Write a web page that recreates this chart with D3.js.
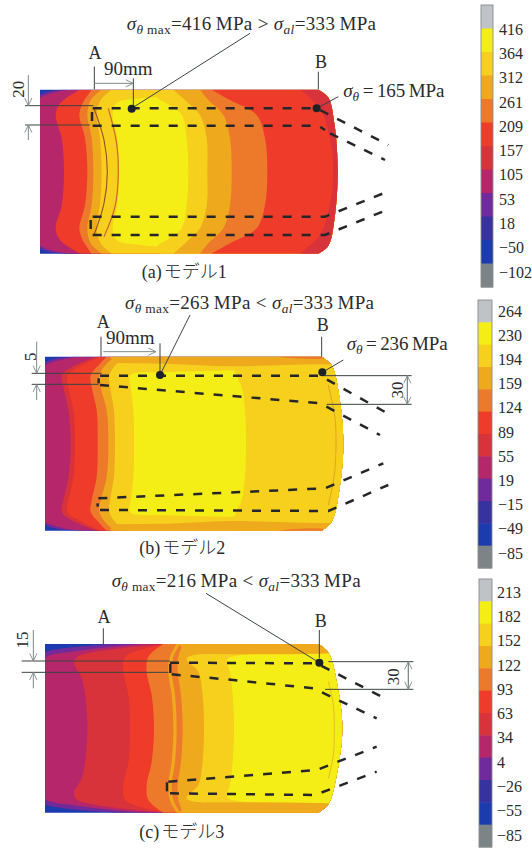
<!DOCTYPE html>
<html><head><meta charset="utf-8">
<script src="https://cdnjs.cloudflare.com/ajax/libs/d3/7.8.5/d3.min.js"></script>
<style>html,body{margin:0;padding:0;background:#fff}svg{display:block}
text{font-family:"Liberation Serif",serif;fill:#2b2b2b}
.jp{font-family:"Noto Sans CJK JP",sans-serif;font-weight:300}</style></head>
<body><div id="c"></div>
<script>
// ---- colour scale steps (top to bottom of each legend) ----
const legendSteps = ["#bfc3c8","#f4ee12","#f6d01a","#eeaa1e","#ec7a2a","#ee3a2a","#d8303a","#b5286a","#6f2a9c","#38309e","#1a3aae","#7d8488"];
const [GY,Y,G,A,O,R,C,M,P,I,B] = legendSteps;
const legendA = ["416","364","312","261","209","157","105","53","18","−50","−102"];
const legendB = ["264","230","194","159","124","89","55","19","−15","−49","−85"];
const legendC = ["213","182","152","122","93","63","34","4","−26","−55","−85"];

// ---- contour bands: [radial offset from axis, axial position] (3x units) ----
const bandsA = [
 [P,[[0,110],[222,110],[246,190]]],
 [M,[[0,110],[212,110],[246,215]]],
 [R,[[0,192],[100,185],[170,167],[205,180],[246,240]]],
 [O,[[0,262],[100,255],[170,238],[205,248],[246,275]]],
 [A,[[0,280],[100,275],[170,262],[215,272],[246,305]]],
 [G,[[0,305],[100,300],[170,290],[215,302],[246,335]]],
 [Y,[[0,357],[100,352],[170,338],[205,350],[220,420],[235,800]]],
 [G,[[0,565],[100,560],[170,545],[205,500],[225,470],[246,480]]],
 [A,[[0,622],[100,620],[170,600],[210,560],[246,520]]],
 [O,[[0,695],[100,690],[170,670],[215,625],[246,600]]],
 [R,[[0,802],[100,795],[170,770],[215,690],[246,635]]],
 [C,[[0,1000],[100,990],[190,960],[246,900]]]
];
const stripsA = [];
const bandsB = [
 [P,[[0,125],[236,125],[261,235]]],
 [M,[[0,125],[225,125],[261,255]]],
 [C,[[0,212],[100,205],[170,190],[205,185],[230,215],[261,290]]],
 [R,[[0,225],[100,220],[170,205],[205,202],[261,300]]],
 [O,[[0,293],[100,290],[170,275],[205,272],[240,300],[261,320]]],
 [A,[[0,325],[100,320],[170,302],[205,298],[240,320],[261,345]]],
 [G,[[0,345],[100,342],[170,330],[205,328],[240,350],[261,380]]],
 [Y,[[0,402],[100,400],[170,392],[205,390],[215,500],[225,1200]]],
 [G,[[0,738],[100,735],[170,725],[215,705],[261,700]]]
];
const stripsB = [
 [A,[[330,261],[345,242],[500,240],[700,232],[960,238],[1035,235]]],
 [O,[[835,261],[880,256],[950,254],[990,261]]]
];
const bandsC = [
 [P,[[0,125],[200,125],[225,130],[240,190],[253,340]]],
 [M,[[0,125],[195,125],[215,140],[232,230],[253,420]]],
 [C,[[0,262],[100,255],[150,245],[195,222],[215,232],[253,490]]],
 [R,[[0,390],[100,385],[170,370],[215,375],[253,495]]],
 [O,[[0,462],[100,455],[170,440],[215,445],[253,490]]],
 [A,[[0,520],[100,515],[170,505],[215,510],[253,530]]],
 [O,[[0,530],[100,525],[170,515],[215,520],[253,540]]],
 [A,[[0,548],[100,543],[170,533],[215,535],[253,550]]],
 [G,[[0,612],[100,608],[170,595],[210,560],[225,800],[240,2000]]],
 [Y,[[0,702],[100,698],[170,690],[200,680],[213,690],[222,2000]]]
];
const stripsC = [
 [A,[[535,253],[580,226],[700,222],[960,224],[1035,228]]]
];

// ---- vessel outlines: right end cap as [axial, radial] ----
const capA = [[955,246],[985,222],[1003,145],[1013,0]];
const capB = [[965,261],[995,235],[1018,140],[1030,0]];
const capC = [[955,253],[985,228],[1012,130],[1027,0]];

// ---- weld seam dashed lines (3x picture units) ----
const seamsA = [
 [[278,325],[950,325],[1165,435]],[[278,377],[955,377],[975,390]],[[990,400],[1155,480]],
 [[278,650],[975,650],[1150,580]],[[278,705],[975,705],[1160,630]],
 [[276,336],[276,364]],[[272,660],[272,690]]
];
const seamsB = [
 [[300,272],[960,272],[1180,395]],[[300,300],[960,355],[1140,450]],
 [[295,640],[975,610],[1150,535]],[[300,675],[985,678],[1165,600]],
 [[296,280],[296,295]],[[293,655],[293,665]]
];
const seamsC = [
 [[510,293],[950,295],[1145,395]],[[515,328],[700,345],[940,370],[1130,460]],
 [[505,650],[760,630],[950,615],[1130,545]],[[510,685],[945,690],[1130,620]],
 [[511,297],[511,325]],[[501,652],[501,680]]
];

// ---- thin lines, arrows, dots, labels ----
const leadersA = [[[750,100],[395,325]],[[1015,290],[950,325]],[[400,235],[400,325]],[[283,200],[283,268]],[[955,215],[955,268]],[[75,317],[280,317]],[[75,375],[270,375]]];
const leadersB = [[[570,90],[480,270]],[[1030,225],[967,262]],[[480,175],[480,270]],[[303,155],[303,215]],[[965,155],[965,215]],[[95,265],[305,265]],[[95,298],[295,298]],[[970,272],[1235,272]],[[980,358],[1235,358]]];
const leadersC = [[[618,85],[958,293]],[[310,190],[310,237]],[[958,195],[958,280]],[[65,288],[510,288]],[[65,322],[505,322]],[[985,290],[1240,290]],[[975,373],[1240,373]]];
const arrowsA = [[[283,250],[400,250]],[[85,225],[85,317]],[[85,420],[85,375]]];
const arrowsB = [[[310,200],[468,200]],[[110,170],[110,265]],[[110,345],[110,298]],[[1222,358],[1222,272]],[[1222,272],[1222,358]]];
const arrowsC = [[[100,195],[100,288]],[[100,370],[100,322]],[[1225,373],[1225,290]],[[1225,290],[1225,373]]];
const dotsA = [[395,326],[950,325]];
const dotsB = [[480,270],[967,262]];
const dotsC = [[958,293]];
const arcsA = [["#9a4a2c",[[282,325],[312,420],[322,515],[312,610],[282,705]]],["#c8602a",[[325,325],[350,430],[355,515],[345,620],[312,710]]]];
const arcsB = [["#e6a81e",[[985,300],[1005,400],[1008,480],[1003,570],[985,660]]]];
const arcsC = [["#e8c020",[[985,350],[1000,420],[1003,490],[1000,570],[985,640]]]];

const formulaA = {max:"416",rel:">",x:[380,1128],y:90};
const formulaB = {max:"263",rel:"<",x:[375,1122],y:72};
const formulaC = {max:"216",rel:"<",x:[335,1082],y:66};
const captionA = ["(a)","モデル","1"];
const captionB = ["(b)","モデル","2"];
const captionC = ["(c)","モデル","3"];

// ---- panel frames ----
const panels = [
 {yo:0,  cy:515,half:246,left:120,bands:bandsA,strips:stripsA,cap:capA,seams:seamsA,lead:leadersA,arrows:arrowsA,dots:dotsA,arcs:arcsA,f:formulaA,
  local:{val:"165",x:1030,y:292},A:[285,176],B:[963,204],span:{t:"90mm",x:312,y:225},dims:[["20",55,268],null],cap2:captionA,capPos:[425,835],
  lg:{labels:legendA,x:[481,493],y:[5,287],lab:[29,272],tx:499}},
 {yo:285,cy:476,half:261,left:135,bands:bandsB,strips:stripsB,cap:capB,seams:seamsB,lead:leadersB,arrows:arrowsB,dots:dotsB,arcs:arcsB,f:formulaB,
  local:{val:"236",x:1040,y:195},A:[310,128],B:[968,138],span:{t:"90mm",x:318,y:178},dims:[["5",90,215],["30",1190,315]],cap2:captionB,capPos:[418,808],
  lg:{labels:legendB,x:[478,492],y:[300,568],lab:[311,553],tx:498}},
 {yo:565,cy:490,half:253,left:135,bands:bandsC,strips:stripsC,cap:capC,seams:seamsC,lead:leadersC,arrows:arrowsC,dots:dotsC,arcs:arcsC,f:formulaC,
  local:null,A:[312,175],B:[962,185],span:null,dims:[["15",65,225],["30",1180,335]],cap2:captionC,capPos:[418,820],
  lg:{labels:legendC,x:[479,492],y:[579,847],lab:[592,835],tx:497}}
];

const svg = d3.select("#c").append("svg").attr("width",532).attr("height",848).attr("viewBox","0 0 532 848");
const defs = svg.append("defs");
defs.append("filter").attr("id","soft").attr("x","-5%").attr("y","-5%").attr("width","110%").attr("height","110%")
  .append("feGaussianBlur").attr("stdDeviation",0.7);
defs.append("filter").attr("id","softT").attr("x","-5%").attr("y","-5%").attr("width","110%").attr("height","110%")
  .append("feGaussianBlur").attr("stdDeviation",0.3);
defs.append("marker").attr("id","ah").attr("viewBox","0 0 10 10").attr("refX",9.5).attr("refY",5).attr("markerWidth",9).attr("markerHeight",9).attr("orient","auto").attr("markerUnits","userSpaceOnUse")
  .append("path").attr("d","M1,1L9.5,5L1,9").attr("fill","none").attr("stroke","#7d8a8a").attr("stroke-width",1);

function formula(g,x,y,parts,len,size){
  const t=g.append("text").attr("x",x).attr("y",y).attr("font-size",size);
  if(len) t.attr("textLength",len).attr("lengthAdjust","spacing");
  parts.forEach(([s,kind])=>{
    const ts=t.append("tspan").text(s);
    if(kind==="i") ts.attr("font-style","italic");
    if(kind==="sub") ts.attr("font-size",size*0.7).attr("font-style","italic").attr("dy",4);
    if(kind==="subr") ts.attr("font-size",size*0.7).attr("dy",0);
    if(kind==="back") ts.attr("dy",-4);
  });
}

panels.forEach((p,i)=>{
  const x=d3.scaleLinear().domain([0,1320]).range([0,440]);
  const y=d3.scaleLinear().domain([0,849]).range([p.yo,p.yo+283]);
  const g=svg.append("g");
  const top=p.cy-p.half, bot=p.cy+p.half, rEdge=p.cap[p.cap.length-1][0]+60;
  const topCurve=p.cap, botCurve=p.cap.slice(0,-1).reverse();
  const capLine=d3.line().x(d=>x(d[0])).y(d=>y(d[1])).curve(d3.curveCatmullRom);
  const capPts=[...topCurve.map(d=>[d[0],p.cy-d[1]]),...botCurve.map(d=>[d[0],p.cy+d[1]])];
  const outline=`M${x(p.left)},${y(top)}`+capLine(capPts).replace("M","L")+`L${x(p.left)},${y(bot)}Z`;
  const cid="clip"+i;
  defs.append("clipPath").attr("id",cid).append("path").attr("d",outline);

  const field=g.append("g").attr("filter","url(#soft)").append("g").attr("clip-path",`url(#${cid})`);
  field.append("rect").attr("x",x(p.left)-2).attr("y",y(top)-2).attr("width",x(rEdge-p.left)).attr("height",y(bot)-y(top)+4).attr("fill",B);
  const bandLine=d3.line().x(d=>x(d[0])).y(d=>y(d[1])).curve(d3.curveCatmullRom.alpha(0.5));
  field.selectAll("path.band").data(p.bands).join("path").attr("class","band").attr("fill",d=>d[0]).attr("d",d=>{
    const pts=[...d[1].slice().reverse().map(a=>[a[1],p.cy-a[0]]),...d[1].slice(1).map(a=>[a[1],p.cy+a[0]])];
    return bandLine(pts)+`L${x(Math.max(rEdge,2100))},${y(bot)}L${x(Math.max(rEdge,2100))},${y(top)}Z`;
  });
  const stripLine=d3.line().x(d=>x(d[0])).curve(d3.curveMonotoneX);
  p.strips.forEach(([col,pts])=>{
    [-1,1].forEach(sign=>{
      const l=stripLine.y(d=>y(p.cy+sign*d[1]))(pts);
      const edge=p.cy+sign*(p.half+4);
      field.append("path").attr("fill",col)
        .attr("d",l+`L${x(pts[pts.length-1][0])},${y(edge)}L${x(pts[0][0])},${y(edge)}Z`);
    });
  });
  const straight=d3.line().x(d=>x(d[0])).y(d=>y(d[1]));
  const smooth=d3.line().x(d=>x(d[0])).y(d=>y(d[1])).curve(d3.curveCatmullRom);
  g.selectAll("path.arc").data(p.arcs).join("path").attr("class","arc").attr("fill","none").attr("stroke",d=>d[0]).attr("stroke-width",1.1).attr("d",d=>smooth(d[1]));

  const ink=g.append("g").attr("filter","url(#softT)");
  ink.selectAll("path.lead").data(p.lead).join("path").attr("class","lead").attr("fill","none").attr("stroke","#3c4442").attr("stroke-width",1).attr("d",straight);
  ink.selectAll("path.arrow").data(p.arrows).join("path").attr("class","arrow").attr("fill","none").attr("stroke","#7d8a8a").attr("stroke-width",1).attr("marker-end","url(#ah)").attr("d",straight);
  ink.selectAll("path.seam").data(p.seams).join("path").attr("class","seam").attr("fill","none").attr("stroke","#26282a").attr("stroke-width",2.5).attr("stroke-dasharray","9 10").attr("d",straight);
  ink.selectAll("circle").data(p.dots).join("circle").attr("cx",d=>x(d[0])).attr("cy",d=>y(d[1])).attr("r",4).attr("fill","#1d2426");

  const tg=g.append("g");
  formula(tg,x(p.f.x[0]),y(p.f.y),[["σ","i"],["θ","sub"],[" max","subr"],["=","back"],[p.f.max+"\u2009MPa "+p.f.rel+" ",""],["σ","i"],["al","sub"],["=","back"],["333\u2009MPa",""]],x(p.f.x[1]-p.f.x[0]),19);
  if(p.local) formula(tg,x(p.local.x),y(p.local.y),[["σ","i"],["θ","sub"],["\u2009=\u2009","back"],[p.local.val+"\u2009MPa",""]],101,19);
  tg.append("text").attr("x",x(p.A[0])).attr("y",y(p.A[1])).attr("text-anchor","middle").attr("font-size",18).text("A");
  tg.append("text").attr("x",x(p.B[0])).attr("y",y(p.B[1])).attr("text-anchor","middle").attr("font-size",18).text("B");
  if(p.span) tg.append("text").attr("x",x(p.span.x)).attr("y",y(p.span.y)).attr("font-size",19).text(p.span.t);
  p.dims.filter(Boolean).forEach(([t,dx,dy])=>{
    tg.append("text").attr("transform",`translate(${x(dx)},${y(dy)}) rotate(-90)`).attr("text-anchor","middle").attr("dy","0.35em").attr("font-size",17).text(t);
  });
  const cap=tg.append("text").attr("x",x(p.capPos[0])).attr("y",y(p.capPos[1])).attr("font-size",18);
  cap.append("tspan").text(p.cap2[0]);
  cap.append("tspan").attr("class","jp").attr("dx",2).text(p.cap2[1]);
  cap.append("tspan").text(p.cap2[2]);

  // legend
  const lgY=d3.scaleBand().domain(legendSteps.map((c,k)=>k)).range(p.lg.y);
  const lgL=d3.scalePoint().domain(p.lg.labels.map((c,k)=>k)).range(p.lg.lab);
  const lg=svg.append("g");
  const lgBars=lg.append("g").attr("filter","url(#softT)");
  lgBars.selectAll("rect.s").data(legendSteps).join("rect").attr("class","s")
    .attr("x",p.lg.x[0]).attr("width",p.lg.x[1]-p.lg.x[0]).attr("y",(d,k)=>lgY(k)).attr("height",lgY.bandwidth()+0.5).attr("fill",d=>d);
  lgBars.append("rect").attr("x",p.lg.x[0]).attr("y",p.lg.y[0]).attr("width",p.lg.x[1]-p.lg.x[0]).attr("height",p.lg.y[1]-p.lg.y[0]).attr("fill","none").attr("stroke","#8a8c8c").attr("stroke-width",0.9);
  lg.selectAll("text").data(p.lg.labels).join("text").attr("x",p.lg.tx).attr("y",(d,k)=>lgL(k)).attr("dy","0.35em").attr("font-size",16).text(d=>d);
});
</script></body></html>
